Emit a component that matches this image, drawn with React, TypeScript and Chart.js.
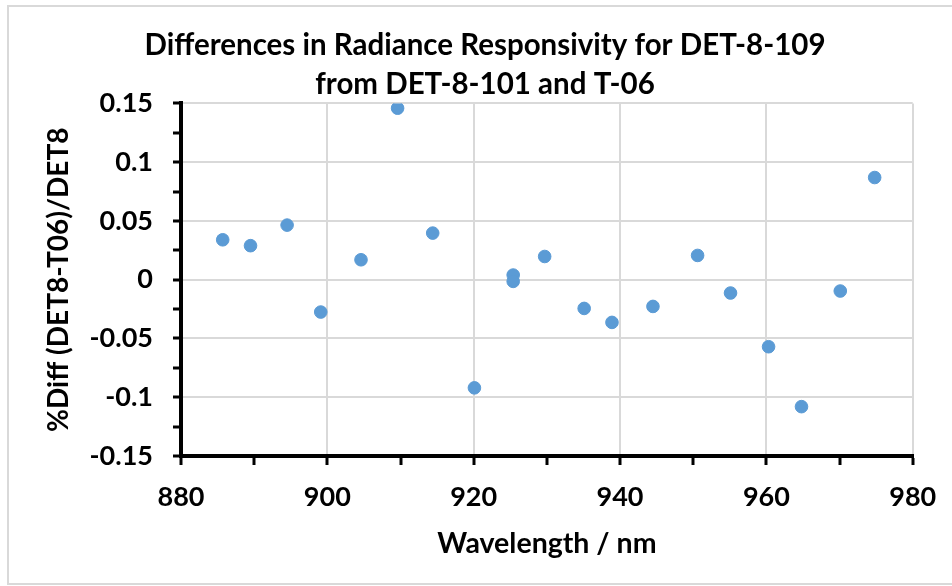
import React, { useEffect, useRef } from 'react';
import { Chart, registerables } from 'chart.js';

Chart.register(...registerables);

// ---- data ----
const wavelengths: number[] = [
  885.7, 889.5, 894.5, 899.1, 904.6, 909.6, 914.4, 920.1, 925.4, 925.4,
  929.7, 935.1, 938.9, 944.5, 950.6, 955.1, 960.3, 964.8, 970.1, 974.8,
];
const pctDiff: number[] = [
  0.034, 0.029, 0.0465, -0.0275, 0.017, 0.146, 0.0397, -0.092, 0.004, -0.0014,
  0.0198, -0.0244, -0.0363, -0.0227, 0.0207, -0.0113, -0.057, -0.108, -0.0096, 0.087,
];
const titleLines: string[] = [
  'Differences in Radiance Responsivity for DET-8-109',
  'from DET-8-101 and T-06',
];
const xAxisTitle = 'Wavelength / nm';
const yAxisTitle = '%Diff (DET8-T06)/DET8';
const xRange: number[] = [880, 980];
const yRange: number[] = [-0.15, 0.15];
const xMajorStep = 20;
const xMinorStep = 10;
const yMajorStep = 0.05;
const yMinorStep = 0.025;

const FONT = 'Lato, "Open Sans", "DejaVu Sans", sans-serif';
const GRID = '#d9d9d9';
const POINT = '#5b9bd5';

const W = 952;
const H = 586;

const isMajor = (v: number, step: number) => {
  const r = v / step;
  return Math.abs(Math.round(r) - r) < 1e-6;
};

const framePlugin = {
  id: 'frame',
  beforeDraw(chart: any) {
    const ctx = chart.ctx;
    ctx.save();
    ctx.fillStyle = '#ffffff';
    ctx.fillRect(0, 0, chart.width, chart.height);
    ctx.strokeStyle = GRID;
    ctx.lineWidth = 2;
    ctx.beginPath();
    ctx.moveTo(W + 5, 6);
    ctx.lineTo(8, 6);
    ctx.lineTo(8, 584);
    ctx.lineTo(W + 5, 584);
    ctx.stroke();
    ctx.restore();
  },
};

export default function App() {
  const canvasRef = useRef<HTMLCanvasElement | null>(null);

  useEffect(() => {
    const canvas = canvasRef.current;
    if (!canvas) return;
    const points = wavelengths.map((x, i) => ({ x, y: pctDiff[i] }));
    const chart = new Chart(canvas, {
      type: 'scatter',
      data: {
        datasets: [
          {
            data: points,
            backgroundColor: POINT,
            borderColor: POINT,
            borderWidth: 1,
            pointRadius: 6.3,
            pointHoverRadius: 6.3,
          },
        ],
      },
      plugins: [framePlugin],
      options: {
        responsive: false,
        animation: false,
        devicePixelRatio: 1,
        layout: { padding: { left: 54, right: 36, top: 0, bottom: 0 } },
        plugins: {
          legend: { display: false },
          tooltip: { enabled: false },
          title: {
            display: true,
            text: titleLines,
            color: '#000',
            font: { family: FONT, size: 29.5, weight: 'bold', lineHeight: 1.322 },
            padding: { top: 25.5, bottom: 0 },
          },
        },
        scales: {
          x: {
            type: 'linear',
            position: 'bottom',
            min: xRange[0],
            max: xRange[1],
            afterFit: (scale: any) => {
              scale.height = 130;
            },
            ticks: {
              stepSize: xMinorStep,
              autoSkip: false,
              maxRotation: 0,
              color: '#000',
              padding: 15.8,
              font: { family: FONT, size: 27, weight: 'bold' },
              callback: (v: any) => (isMajor(Number(v), xMajorStep) ? String(Math.round(Number(v))) : ''),
            },
            grid: {
              color: (c: any) => (c.tick && isMajor(c.tick.value, xMajorStep) ? GRID : 'rgba(0,0,0,0)'),
              lineWidth: 2,
              tickColor: '#000',
              tickWidth: 3,
              tickLength: 9,
            },
            border: { display: true, color: '#000', width: 4 },
            title: {
              display: true,
              text: xAxisTitle,
              color: '#000',
              font: { family: FONT, size: 28.5, weight: 'bold', lineHeight: 1.2 },
              padding: { top: 0, bottom: 25 },
            },
          },
          y: {
            type: 'linear',
            min: yRange[0],
            max: yRange[1],
            afterFit: (scale: any) => {
              scale.width = 181 - 54;
            },
            ticks: {
              stepSize: yMinorStep,
              autoSkip: false,
              color: '#000',
              padding: 20,
              font: { family: FONT, size: 27, weight: 'bold' },
              callback: (v: any) => {
                const n = Math.round(Number(v) * 1000) / 1000;
                return isMajor(n, yMajorStep) ? String(n) : '';
              },
            },
            grid: {
              color: (c: any) => (c.tick && isMajor(c.tick.value, yMajorStep) ? GRID : 'rgba(0,0,0,0)'),
              lineWidth: 2,
              tickColor: '#000',
              tickWidth: 3,
              tickLength: 8,
            },
            border: { display: true, color: '#000', width: 4 },
            title: {
              display: true,
              text: yAxisTitle,
              color: '#000',
              font: { family: FONT, size: 28, weight: 'bold', lineHeight: 1.2 },
              padding: { top: -11.8, bottom: 0 },
            },
          },
        },
      },
    } as any);
    return () => chart.destroy();
  }, []);

  return (
    <div style={{ position: 'fixed', left: 0, top: 0, width: W, height: H, background: '#fff' }}>
      <canvas ref={canvasRef} width={W} height={H} style={{ display: 'block' }} />
    </div>
  );
}
